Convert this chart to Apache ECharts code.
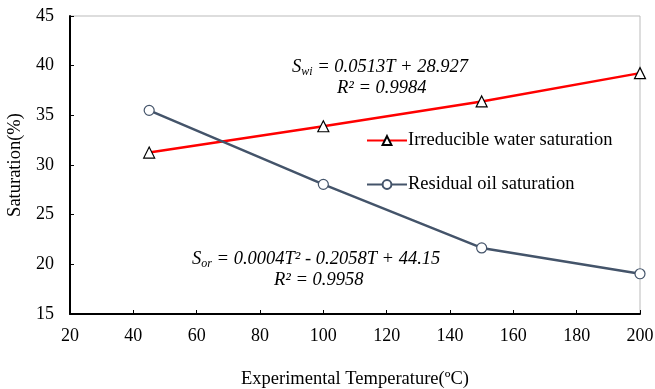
<!DOCTYPE html>
<html><head><meta charset="utf-8">
<script src="https://cdn.jsdelivr.net/npm/echarts@6/dist/echarts.min.js"></script>
<style>html,body{margin:0;padding:0;background:#fff}#c{width:655px;height:389px}</style>
</head><body><div id="c"></div>
<script>
const temperatures = [45, 100, 150, 200];
const waterSat = [31.25, 33.9, 36.4, 39.25];
const oilSat = [35.5, 28.05, 21.65, 19.05];
const xTicks = [20, 40, 60, 80, 100, 120, 140, 160, 180, 200];
const yTicks = [15, 20, 25, 30, 35, 40, 45];
const seriesNames = ['Irreducible water saturation', 'Residual oil saturation'];

const font = '"Liberation Serif", "Times New Roman", serif';
const chart = echarts.init(document.getElementById('c'));
const pair = arr => temperatures.map((t, i) => [t, arr[i]]);
const FS = 18.5;
const eqRich = {
  i: {fontFamily: font, fontSize: FS, fontStyle: 'italic', fill: '#000'},
  s: {fontFamily: font, fontSize: 12, fontStyle: 'italic', fill: '#000', padding: [10, 0, 0, 0]}
};
const eqText = (x, y, text) => ({type: 'text', x: x, y: y,
  style: {text: text, rich: eqRich, verticalAlign: 'middle', align: 'left'}});
chart.setOption({
  animation: false,
  grid: {left: 70, right: 15, top: 16, bottom: 75, containLabel: false, outerBoundsMode: 'none',
         show: true, borderColor: '#bbb', borderWidth: 1},
  legend: {
    orient: 'vertical', left: 361, top: 126, itemGap: 25, itemWidth: 40, itemHeight: 11,
    textStyle: {fontFamily: font, fontSize: FS, color: '#000', padding: [0, 0, 0, -4]},
    data: seriesNames
  },
  xAxis: {
    type: 'value', min: 20, max: 200, interval: 20,
    name: 'Experimental Temperature(ºC)', nameLocation: 'middle', nameGap: 56,
    nameTextStyle: {fontFamily: font, fontSize: FS, color: '#000'},
    axisLine: {lineStyle: {color: '#000', width: 2}},
    axisTick: {inside: true, length: 4, lineStyle: {color: '#000'}},
    axisLabel: {fontFamily: font, fontSize: 18, color: '#000', margin: 13},
    splitLine: {show: false}
  },
  yAxis: {
    type: 'value', min: 15, max: 45, interval: 5,
    name: 'Saturation(%)', nameLocation: 'middle', nameGap: 40,
    nameTextStyle: {fontFamily: font, fontSize: FS, color: '#000'},
    axisLine: {show: true, lineStyle: {color: '#000', width: 2}},
    axisTick: {show: true, inside: true, length: 4, lineStyle: {color: '#000'}},
    axisLabel: {fontFamily: font, fontSize: 18, color: '#000', margin: 16},
    splitLine: {show: false}
  },
  series: [
    {name: seriesNames[0], type: 'line', data: pair(waterSat), symbol: 'triangle', symbolSize: 11,
     lineStyle: {color: '#ff0000', width: 2.5}, itemStyle: {color: '#fff', borderColor: '#000', borderWidth: 1.2}},
    {name: seriesNames[1], type: 'line', data: pair(oilSat), symbol: 'circle', symbolSize: 10,
     lineStyle: {color: '#44546a', width: 2.5}, itemStyle: {color: '#fff', borderColor: '#44546a', borderWidth: 1.2}}
  ],
  graphic: [
    eqText(292, 67, '{i|S}{s|wi}{i| = 0.0513T + 28.927}'),
    eqText(337, 88, '{i|R² = 0.9984}'),
    eqText(192, 259, '{i|S}{s|or}{i| = 0.0004T² - 0.2058T + 44.15}'),
    eqText(274, 280, '{i|R² = 0.9958}')
  ]
});
</script></body></html>
